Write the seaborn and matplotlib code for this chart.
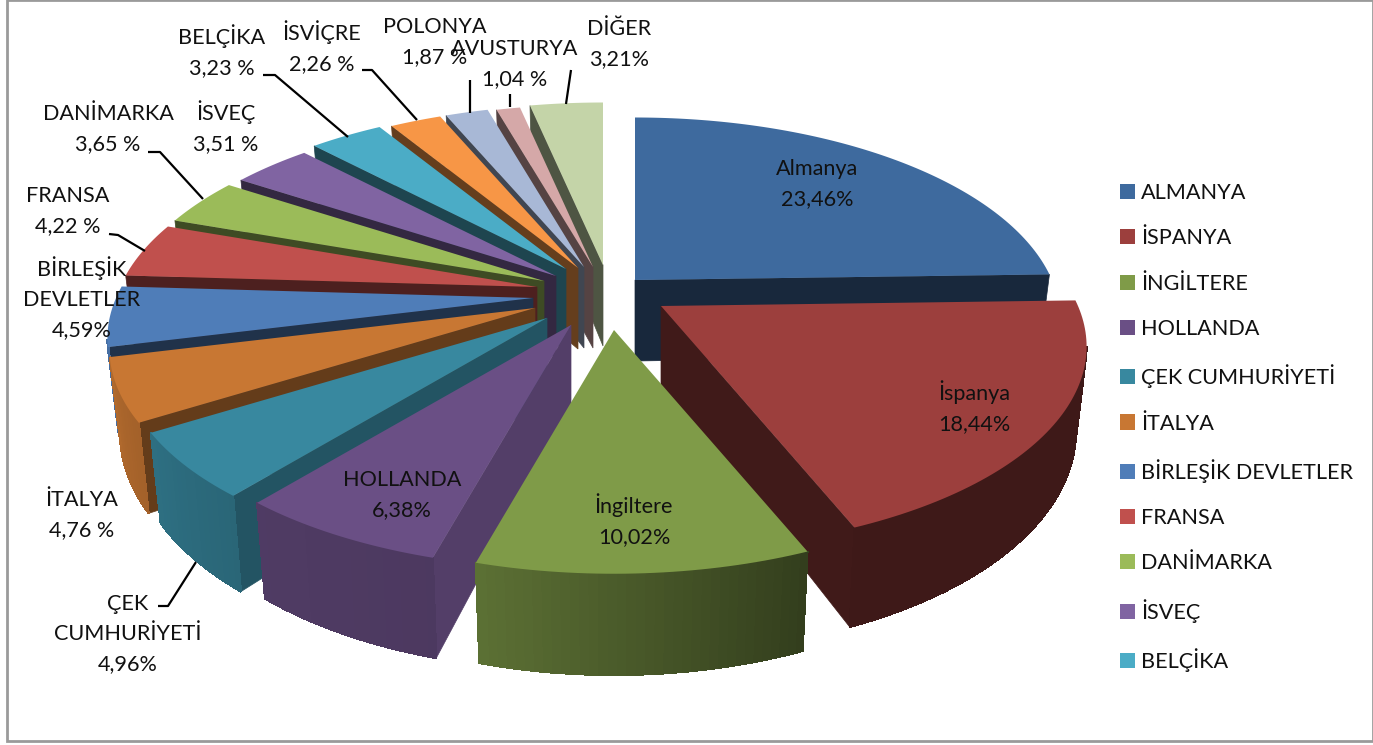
import numpy as np
import pandas as pd
import seaborn as sns
import matplotlib
matplotlib.use("Agg")
import matplotlib.pyplot as plt
from matplotlib.patches import Patch, Rectangle

# ---- data ----
countries = ["ALMANYA", "İSPANYA", "İNGİLTERE", "HOLLANDA", "ÇEK CUMHURİYETİ", "İTALYA",
             "BİRLEŞİK DEVLETLER", "FRANSA", "DANİMARKA", "İSVEÇ", "BELÇİKA", "İSVİÇRE",
             "POLONYA", "AVUSTURYA", "DİĞER"]
shares = [23.46, 18.44, 10.02, 6.38, 4.96, 4.76, 4.59, 4.22, 3.65, 3.51, 3.23, 2.26, 1.87, 1.04, 3.21]
label_text = ["Almanya\n23,46%", "İspanya\n18,44%", "İngiltere\n10,02%", "HOLLANDA\n6,38%",
              "ÇEK\nCUMHURİYETİ\n4,96%", "İTALYA\n4,76 %", "BİRLEŞİK\nDEVLETLER\n4,59%",
              "FRANSA\n4,22 %", "DANİMARKA\n3,65 %", "İSVEÇ\n3,51 %", "BELÇİKA\n3,23 %",
              "İSVİÇRE\n2,26 %", "POLONYA\n1,87 %", "AVUSTURYA\n1,04 %", "DİĞER\n3,21%"]
legend_count = 11

# ---- style ----
slice_colors = ["#3E6A9E", "#9C3F3D", "#7F9B48", "#6A4F85", "#38889F", "#C87733", "#4F7DB8",
                "#C0504D", "#9BBB59", "#8064A2", "#4BACC6", "#F79646", "#A8B8D6", "#D5A8A8", "#C4D4A8"]
cut_shade = [.38, .41, .6, .78, .62, .5, .4, .4, .4, .4, .4, .41, .38, .4, .4]
explode_dx = [45, 71, 24, -19, -43, -55, -57, -53, -46, -34, -24, -12, -6, 3, 13]
explode_dy = [-10, 16, 40, 35, 28, 18, 8, -3, -9, -14, -21, -22, -23, -23, -25]
label_xy = [(817, 184), (974, 407), (634, 520), (402, 495), (128, 634), (82, 515), (82, 298),
            (68, 211), (108, 129), (226, 127), (222, 51), (322, 47), (435, 42), (515, 64), (619, 44)]
leaders = [[(158, 606), (168, 606), (196, 562)], [(109, 234), (118, 235), (145, 251)],
           [(148, 152), (160, 152), (203, 199)], [(263, 75), (275, 75), (348, 137)],
           [(362, 70), (372, 70), (417, 120)], [(470, 80), (470, 113)], [(510, 94), (510, 107)],
           [(571, 70), (566, 104)]]

CX, CY = 590, 290
RX, RY, PERSP, DEPTH, BOTTOM = 417, 195, 0.2, 81, 0.975
FONT = 15.6

sns.set_theme(style="white")
plt.rcParams["font.family"] = ["Lato", "DejaVu Sans"]
palette = sns.color_palette(slice_colors)
df = pd.DataFrame({"country": countries, "share": shares})
df["frac"] = df["share"] / df["share"].sum()
df["end"] = df["frac"].cumsum() * 360
df["start"] = df["end"].shift(fill_value=0)
df["mid"] = (df["start"] + df["end"]) / 2

fig = plt.figure(figsize=(13.73, 7.45), dpi=100)
ax = fig.add_axes([0, 0, 1, 1])
ax.set_xlim(0, 1373)
ax.set_ylim(745, 0)
ax.axis("off")
ax.add_patch(Rectangle((7, 0), 1366, 741, fill=False, ec="#9a9a9a", lw=2, zorder=0, clip_on=False))


def shade(rgb, f):
    return tuple(np.clip(np.array(rgb) * f, 0, 1))


def wall_factor(t):
    return np.interp(t, [88, 158, 195, 220, 256, 360], [.4, .4, .72, .75, .88, .9])


z = 1
for i in df.assign(k=np.cos(np.radians(df["mid"]))).sort_values("k", ascending=False).index:
    row = df.loc[i]
    ax_, ay_ = CX + explode_dx[i], CY + explode_dy[i]
    ts = np.linspace(row["start"], row["end"], max(8, int(row["end"] - row["start"])))
    r = np.radians(ts)
    s = 1 / (1 + PERSP * np.cos(r))
    rim_x = ax_ + RX * np.sin(r) * s
    rim_y = ay_ - RY * np.cos(r) * s
    low_x = ax_ + (rim_x - ax_) * BOTTOM
    low_y = rim_y + DEPTH * s
    col = palette[i]
    # cut faces turned to the viewer
    if ax_ - rim_x[-1] < 0:
        ax.fill([rim_x[-1], ax_, ax_, low_x[-1]], [rim_y[-1], ay_, ay_ + DEPTH, low_y[-1]],
                color=shade(col, cut_shade[i]), lw=.5, zorder=z)
    if rim_x[0] - ax_ < 0:
        ax.fill([ax_, rim_x[0], low_x[0], ax_], [ay_, rim_y[0], low_y[0], ay_ + DEPTH],
                color=shade(col, cut_shade[i]), lw=.5, zorder=z)
    # outer wall, shaded by angle
    for k in range(len(ts) - 1):
        if rim_x[k + 1] - rim_x[k] < 0:
            c = shade(col, wall_factor((ts[k] + ts[k + 1]) / 2))
            ax.fill([rim_x[k], rim_x[k + 1], low_x[k + 1], low_x[k]],
                    [rim_y[k], rim_y[k + 1], low_y[k + 1], low_y[k]],
                    facecolor=c, edgecolor=c, lw=.8, antialiased=False, zorder=z)
    z += 1
    ax.fill(np.r_[ax_, rim_x], np.r_[ay_, rim_y], color=col, lw=0, zorder=z)
    z += 1

for txt, (x, y) in zip(label_text, label_xy):
    ax.text(x, y, txt, ha="center", va="center", fontsize=FONT, color="#111111",
            linespacing=1.65, zorder=200)

for pts in leaders:
    xs, ys = zip(*pts)
    ax.plot(xs, ys, color="black", lw=1.6, zorder=150, solid_capstyle="butt")

handles = [Patch(facecolor=palette[i], edgecolor="none", label=countries[i]) for i in range(legend_count)]
leg = ax.legend(handles=handles, loc="upper left", bbox_to_anchor=(1120, 183),
                bbox_transform=ax.transData, frameon=False, fontsize=FONT, borderpad=0, borderaxespad=0,
                handlelength=0.7, handleheight=0.7, handletextpad=0.27, labelspacing=1.17,
                labelcolor="#111111")
leg.set_zorder(210)

fig.savefig("out.png", dpi=100)
